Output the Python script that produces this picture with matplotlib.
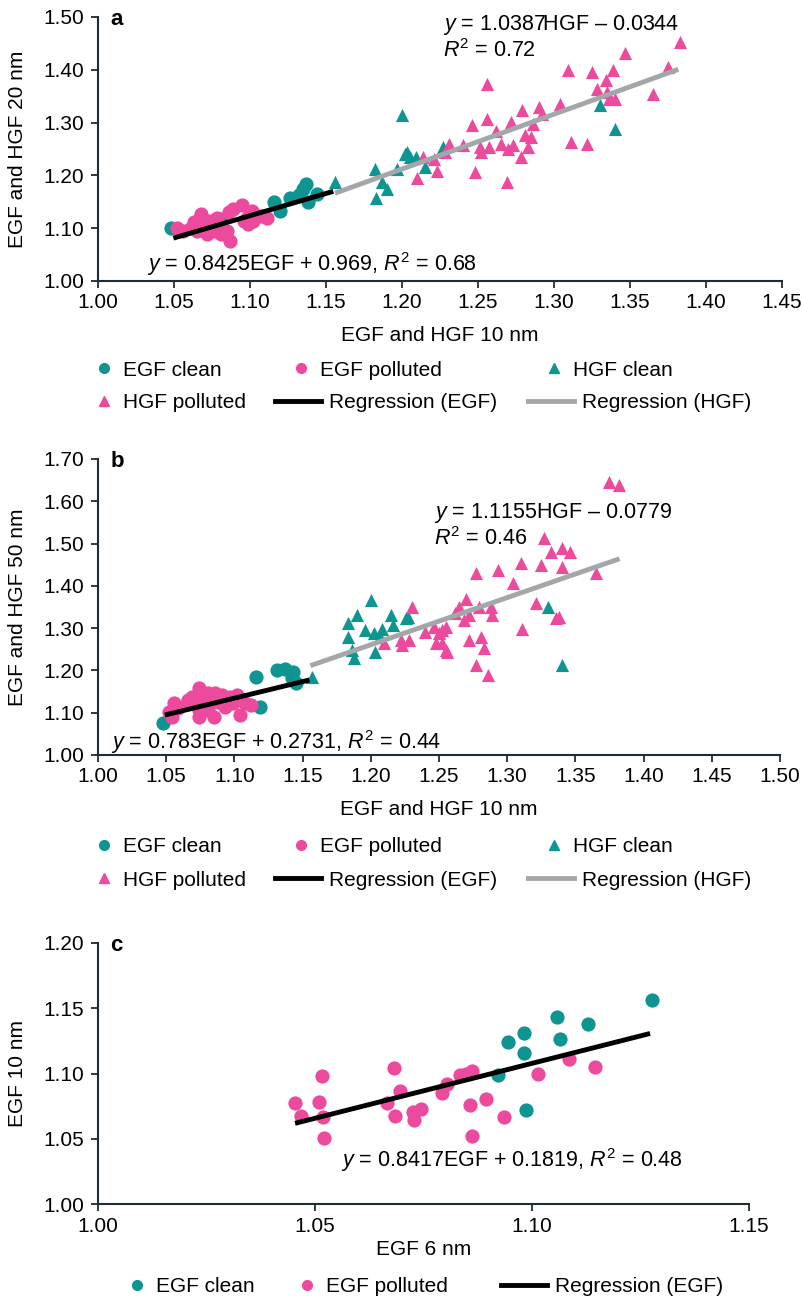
import matplotlib
matplotlib.use("Agg")
import numpy as np
import matplotlib.pyplot as plt
from matplotlib.lines import Line2D

plt.rcParams["font.family"] = ["Liberation Sans", "DejaVu Sans"]
plt.rcParams["mathtext.fontset"] = "custom"
plt.rcParams["mathtext.rm"] = "Liberation Sans"
plt.rcParams["mathtext.it"] = "Liberation Sans:italic"
plt.rcParams["font.size"] = 15

TEAL = "#0e9592"
PINK = "#ec4a9c"
GREY = "#a4a7a9"
AXC = "#1d2d35"
FS = 15

# ---- panel a : EGF/HGF 10 nm vs 20 nm ----
a_egf_clean_x = [1.048, 1.080, 1.116, 1.120, 1.126, 1.132, 1.137, 1.138, 1.144, 1.135]
a_egf_clean_y = [1.100, 1.118, 1.149, 1.132, 1.158, 1.162, 1.184, 1.149, 1.165, 1.175]
a_egf_poll_x = [1.052, 1.056, 1.061, 1.067, 1.069, 1.074, 1.076, 1.078, 1.080, 1.085, 1.087, 1.086, 1.089, 1.095,
                1.098, 1.101, 1.102, 1.107, 1.111, 1.072, 1.065, 1.081, 1.063, 1.068, 1.078, 1.096, 1.099]
a_egf_poll_y = [1.101, 1.095, 1.101, 1.120, 1.108, 1.114, 1.095, 1.108, 1.101, 1.095, 1.076, 1.130, 1.136, 1.143,
                1.120, 1.133, 1.114, 1.124, 1.120, 1.089, 1.095, 1.089, 1.111, 1.127, 1.120, 1.114, 1.108]
a_hgf_clean_x = [1.156, 1.200, 1.182, 1.183, 1.187, 1.190, 1.197, 1.202, 1.209, 1.215, 1.227, 1.205, 1.203, 1.330, 1.340]
a_hgf_clean_y = [1.187, 1.314, 1.212, 1.158, 1.187, 1.174, 1.212, 1.241, 1.235, 1.216, 1.254, 1.235, 1.244, 1.333, 1.288]
a_hgf_poll_x = [1.383, 1.375, 1.365, 1.347, 1.339, 1.325, 1.309, 1.334, 1.328, 1.335, 1.340, 1.336, 1.322, 1.311,
                1.304, 1.292, 1.290, 1.286, 1.279, 1.285, 1.281, 1.283, 1.278, 1.273, 1.270, 1.272, 1.265, 1.262,
                1.269, 1.256, 1.256, 1.257, 1.252, 1.251, 1.246, 1.248, 1.240, 1.231, 1.223, 1.221, 1.214, 1.210, 1.228]
a_hgf_poll_y = [1.453, 1.406, 1.355, 1.431, 1.399, 1.396, 1.399, 1.380, 1.364, 1.358, 1.345, 1.345, 1.260, 1.263,
                1.336, 1.317, 1.330, 1.298, 1.323, 1.273, 1.276, 1.254, 1.235, 1.257, 1.250, 1.302, 1.260, 1.285,
                1.187, 1.374, 1.307, 1.254, 1.244, 1.254, 1.295, 1.206, 1.257, 1.260, 1.209, 1.231, 1.235, 1.196, 1.244]
a_reg_egf = (0.8425, 0.1969, 1.0496, 1.1548)   # slope, intercept, x from, x to
a_reg_hgf = (1.0387, -0.0344, 1.1559, 1.3818)

# ---- panel b : EGF/HGF 10 nm vs 50 nm ----
b_egf_clean_x = [1.048, 1.116, 1.119, 1.131, 1.137, 1.143, 1.145, 1.142]
b_egf_clean_y = [1.076, 1.184, 1.113, 1.201, 1.203, 1.197, 1.170, 1.181]
b_egf_poll_x = [1.052, 1.059, 1.065, 1.069, 1.074, 1.076, 1.078, 1.081, 1.083, 1.086, 1.088, 1.093, 1.097, 1.099,
                1.102, 1.104, 1.108, 1.112, 1.074, 1.071, 1.066, 1.081, 1.074, 1.085, 1.091, 1.056, 1.054]
b_egf_poll_y = [1.102, 1.110, 1.122, 1.138, 1.158, 1.138, 1.122, 1.106, 1.130, 1.146, 1.126, 1.114, 1.138, 1.122,
                1.142, 1.095, 1.122, 1.118, 1.106, 1.122, 1.130, 1.146, 1.091, 1.091, 1.142, 1.122, 1.091]
b_hgf_clean_x = [1.157, 1.200, 1.183, 1.190, 1.183, 1.186, 1.188, 1.196, 1.202, 1.203, 1.208, 1.215, 1.216, 1.227,
                 1.207, 1.226, 1.330, 1.340]
b_hgf_clean_y = [1.185, 1.366, 1.311, 1.331, 1.280, 1.248, 1.229, 1.296, 1.288, 1.244, 1.299, 1.331, 1.307, 1.327,
                 1.280, 1.323, 1.351, 1.213]
b_hgf_poll_x = [1.230, 1.210, 1.222, 1.228, 1.240, 1.248, 1.255, 1.252, 1.375, 1.382, 1.327, 1.332, 1.340, 1.346,
                1.325, 1.340, 1.310, 1.293, 1.277, 1.304, 1.365, 1.270, 1.265, 1.279, 1.288, 1.289, 1.321, 1.336,
                1.338, 1.311, 1.272, 1.268, 1.262, 1.255, 1.250, 1.246, 1.223, 1.252, 1.256, 1.272, 1.281, 1.283,
                1.277, 1.286]
b_hgf_poll_y = [1.351, 1.264, 1.272, 1.272, 1.292, 1.264, 1.248, 1.296, 1.646, 1.638, 1.512, 1.481, 1.489, 1.481,
                1.449, 1.445, 1.453, 1.437, 1.430, 1.406, 1.430, 1.370, 1.351, 1.351, 1.351, 1.331, 1.359, 1.323,
                1.327, 1.299, 1.331, 1.319, 1.335, 1.303, 1.288, 1.303, 1.260, 1.264, 1.244, 1.272, 1.280, 1.252,
                1.213, 1.189]
b_reg_egf = (0.783, 0.2731, 1.049, 1.155)
b_reg_hgf = (1.1155, -0.0779, 1.1557, 1.3824)

# ---- panel c : EGF 6 nm vs 10 nm ----
c_egf_clean_x = [1.0922, 1.0945, 1.0982, 1.0982, 1.0986, 1.1058, 1.1065, 1.1130, 1.1276]
c_egf_clean_y = [1.0989, 1.1244, 1.1308, 1.1159, 1.0720, 1.1435, 1.1262, 1.1377, 1.1563]
c_egf_poll_x = [1.0454, 1.0467, 1.0515, 1.0510, 1.0519, 1.0521, 1.0682, 1.0696, 1.0665, 1.0684, 1.0725, 1.0744,
                1.0729, 1.0792, 1.0805, 1.0834, 1.0848, 1.0861, 1.0857, 1.0893, 1.0861, 1.0935, 1.1013, 1.1085, 1.1145]
c_egf_poll_y = [1.0772, 1.0677, 1.0981, 1.0784, 1.0664, 1.0508, 1.1040, 1.0866, 1.0772, 1.0677, 1.0707, 1.0728,
                1.0644, 1.0848, 1.0920, 1.0989, 1.0996, 1.1019, 1.0759, 1.0802, 1.0523, 1.0669, 1.0996, 1.1109, 1.1047]
c_reg_egf = (0.8417, 0.1819, 1.0454, 1.1272)

W, H = 804, 1302
fig = plt.figure(figsize=(W / 100, H / 100), dpi=100)


def box(l, t, r, b):
    return [l / W, 1 - b / H, (r - l) / W, (b - t) / H]


def style(ax, xlim, ylim, xstep, ystep, letter):
    ax.set_xlim(*xlim)
    ax.set_ylim(*ylim)
    ax.set_xticks(np.arange(xlim[0], xlim[1] + 1e-9, xstep))
    ax.set_yticks(np.arange(ylim[0], ylim[1] + 1e-9, ystep))
    ax.xaxis.set_major_formatter("{x:.2f}")
    ax.yaxis.set_major_formatter("{x:.2f}")
    for s in ["top", "right"]:
        ax.spines[s].set_visible(False)
    for s in ["left", "bottom"]:
        ax.spines[s].set_color(AXC)
        ax.spines[s].set_linewidth(1.5)
    ax.tick_params(direction="out", length=5, width=1.3, color=AXC, pad=4, labelsize=FS)
    ax.tick_params(axis="y", pad=5)
    ax.text(0.018, 0.99, letter, transform=ax.transAxes, fontweight="bold", fontsize=16, va="center")


def reg(ax, spec, color):
    k, c, x0, x1 = spec
    xs = np.array([x0, x1])
    ax.plot(xs, k * xs + c, color=color, lw=3.5, solid_capstyle="butt", zorder=5)


def legend_item(handle, label, x, y):
    is_line = handle.get_marker() in ("None", None, "")
    fig.legend([handle], [label], loc="center left", bbox_to_anchor=(x / W, 1 - y / H), frameon=False,
               borderpad=0, borderaxespad=0, handlelength=2.2 if is_line else 1.0,
               handletextpad=0.4, fontsize=FS)


h_ec = Line2D([], [], ls="none", marker="o", ms=7, color=TEAL)
h_ep = Line2D([], [], ls="none", marker="o", ms=7, color=PINK)
h_hc = Line2D([], [], ls="none", marker="^", ms=7, color=TEAL)
h_hp = Line2D([], [], ls="none", marker="^", ms=7, color=PINK)
h_re = Line2D([], [], color="black", lw=3.5)
h_rh = Line2D([], [], color=GREY, lw=3.5)

S_C, S_T = 105, 90

# panel a
ax = fig.add_axes(box(98, 17, 782, 281))
ax.scatter(a_egf_clean_x, a_egf_clean_y, s=S_C, color=TEAL, lw=0, zorder=2)
ax.scatter(a_egf_poll_x, a_egf_poll_y, s=S_C, color=PINK, lw=0, zorder=2)
ax.scatter(a_hgf_clean_x, a_hgf_clean_y, s=S_T, marker="^", color=TEAL, lw=0, zorder=3)
ax.scatter(a_hgf_poll_x, a_hgf_poll_y, s=S_T, marker="^", color=PINK, lw=0, zorder=3)
reg(ax, a_reg_egf, "black")
reg(ax, a_reg_hgf, GREY)
style(ax, (1.0, 1.45), (1.0, 1.5), 0.05, 0.1, "a")
ax.set_xlabel("EGF and HGF 10 nm", fontsize=FS, labelpad=10)
ax.set_ylabel("EGF and HGF 20 nm", fontsize=FS)
ax.yaxis.set_label_coords(-0.104, 0.5)
ax.text(1.2272, 1.485, "$y$ = 1.0387HGF \u2013 0.0344", fontsize=15.5, va="center")
ax.text(1.2272, 1.437, "$R^2$ = 0.72", fontsize=15.5, va="center")
ax.text(1.032, 1.032, "$y$ = 0.8425EGF + 0.969, $R^2$ = 0.68", fontsize=15.5, va="center")
for h, lab, x, y in [(h_ec, "EGF clean", 94, 370), (h_ep, "EGF polluted", 291, 370), (h_hc, "HGF clean", 544, 370),
                     (h_hp, "HGF polluted", 94, 403), (h_re, "Regression (EGF)", 275, 403),
                     (h_rh, "Regression (HGF)", 528, 403)]:
    legend_item(h, lab, x, y)

# panel b
ax = fig.add_axes(box(98, 459, 780, 755))
ax.scatter(b_egf_clean_x, b_egf_clean_y, s=S_C, color=TEAL, lw=0, zorder=2)
ax.scatter(b_egf_poll_x, b_egf_poll_y, s=S_C, color=PINK, lw=0, zorder=2)
ax.scatter(b_hgf_clean_x, b_hgf_clean_y, s=S_T, marker="^", color=TEAL, lw=0, zorder=3)
ax.scatter(b_hgf_poll_x, b_hgf_poll_y, s=S_T, marker="^", color=PINK, lw=0, zorder=3)
reg(ax, b_reg_egf, "black")
reg(ax, b_reg_hgf, GREY)
style(ax, (1.0, 1.5), (1.0, 1.7), 0.05, 0.1, "b")
ax.set_xlabel("EGF and HGF 10 nm", fontsize=FS, labelpad=10)
ax.set_ylabel("EGF and HGF 50 nm", fontsize=FS)
ax.yaxis.set_label_coords(-0.104, 0.5)
ax.text(1.2463, 1.573, "$y$ = 1.1155HGF \u2013 0.0779", fontsize=15.5, va="center")
ax.text(1.2463, 1.513, "$R^2$ = 0.46", fontsize=15.5, va="center")
ax.text(1.0098, 1.0314, "$y$ = 0.783EGF + 0.2731, $R^2$ = 0.44", fontsize=15.5, va="center")
for h, lab, x, y in [(h_ec, "EGF clean", 94, 847), (h_ep, "EGF polluted", 291, 847), (h_hc, "HGF clean", 544, 847),
                     (h_hp, "HGF polluted", 94, 880), (h_re, "Regression (EGF)", 275, 880),
                     (h_rh, "Regression (HGF)", 528, 880)]:
    legend_item(h, lab, x, y)

# panel c
ax = fig.add_axes(box(98, 943, 749, 1204))
ax.scatter(c_egf_clean_x, c_egf_clean_y, s=S_C, color=TEAL, lw=0, zorder=2)
ax.scatter(c_egf_poll_x, c_egf_poll_y, s=S_C, color=PINK, lw=0, zorder=2)
reg(ax, c_reg_egf, "black")
style(ax, (1.0, 1.15), (1.0, 1.2), 0.05, 0.05, "c")
ax.set_xlabel("EGF 6 nm", fontsize=FS, labelpad=3)
ax.set_ylabel("EGF 10 nm", fontsize=FS)
ax.yaxis.set_label_coords(-0.109, 0.5)
ax.text(1.0561, 1.0337, "$y$ = 0.8417EGF + 0.1819, $R^2$ = 0.48", fontsize=15.5, va="center")
for h, lab, x, y in [(h_ec, "EGF clean", 127, 1287), (h_ep, "EGF polluted", 297, 1287),
                     (h_re, "Regression (EGF)", 501, 1287)]:
    legend_item(h, lab, x, y)

fig.savefig("out.png", dpi=100)
